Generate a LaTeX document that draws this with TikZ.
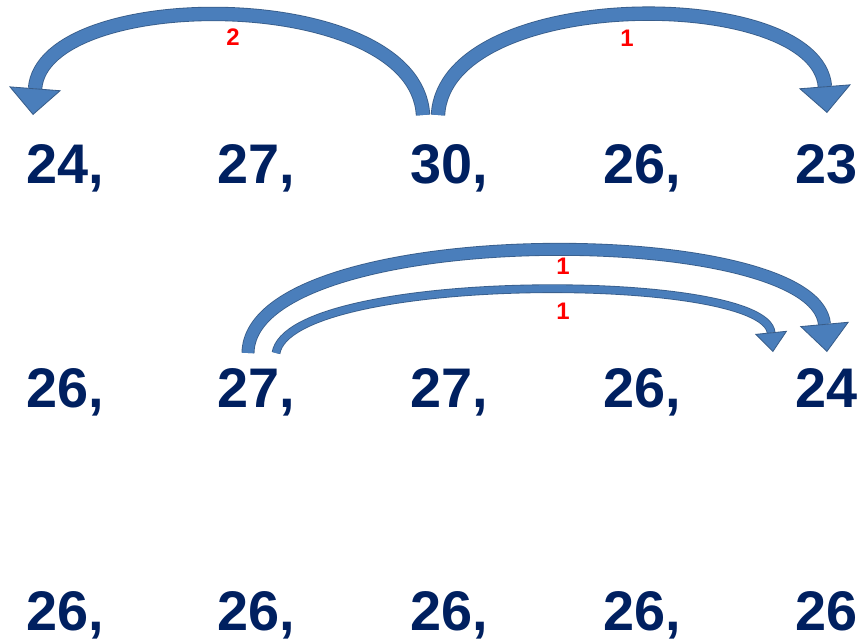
\documentclass[tikz,border=0pt]{standalone}
\usepackage{fontspec}
\setmainfont{Liberation Sans}
\usetikzlibrary{arrows.meta}
\definecolor{NumNavy}{RGB}{0,32,96}
\definecolor{ArrowFill}{RGB}{74,126,187}
\definecolor{ArrowEdge}{RGB}{56,93,138}
\definecolor{StepRed}{RGB}{255,0,0}

\begin{document}
\begin{tikzpicture}[x=0.025cm,y=-0.025cm,
    num/.style={anchor=base west,inner sep=0pt,text=NumNavy,
      font=\fontsize{39.7}{40}\selectfont\bfseries},
    steplabel/.style={inner sep=0pt,text=StepRed,
      font=\fontsize{17}{18}\selectfont\bfseries},
    jump/.style={draw=ArrowEdge,line width=0.6pt,double=ArrowFill,double distance=#1},
    bigjump/.style={jump=9pt,
      -{Triangle[length=19pt,width=37pt,line width=0.6pt,fill=ArrowFill]}},
    longjump/.style={jump=8pt,
      -{Triangle[length=20pt,width=35pt,line width=0.6pt,fill=ArrowFill]}},
    smalljump/.style={jump=5pt,
      -{Triangle[length=14pt,width=23pt,line width=0.6pt,fill=ArrowFill]}}
  ]
    \useasboundingbox (0,0) rectangle (862,641);

    % first row
    \node[num] (f24) at (26,183) {24,};
    \node[num] (f27) at (217,183) {27,};
    \node[num] (f30) at (410,183) {30,};
    \node[num] (f26) at (603,183) {26,};
    \node[num] (f23) at (795,183) {23};

    \draw[bigjump] ([shift={(13,-68)}]f30.base west)
      .. controls +(-7,-130) and +(10,-130) .. ([shift={(7,-68)}]f24.base west);
    \draw[bigjump] ([shift={(28,-68)}]f30.base west)
      .. controls +(7,-130) and +(-10,-128) .. ([shift={(32,-70)}]f23.base west);
    \node[steplabel] (jumptwo) at (233,37) {2};
    \node[steplabel] (jumpone) at (627,38) {1};

    % second row
    \node[num] (s26) at (26,407) {26,};
    \node[num] (s27a) at (217,407) {27,};
    \node[num] (s27b) at (410,407) {27,};
    \node[num] (s26b) at (603,407) {26,};
    \node[num] (s24) at (795,407) {24};

    \draw[longjump] ([shift={(31,-54)}]s27a.base west)
      .. controls +(2,-133) and +(-12,-132) .. ([shift={(32,-55)}]s24.base west);
    \draw[smalljump] ([shift={(59,-54)}]s27a.base west)
      .. controls +(14,-82) and +(-8,-81) .. ([shift={(-22,-55)}]s24.base west);
    \node[steplabel] (outerone) at (563,266) {1};
    \node[steplabel] (innerone) at (563,311) {1};

    % third row
    \node[num] (t26a) at (26,630) {26,};
    \node[num] (t26b) at (217,630) {26,};
    \node[num] (t26c) at (410,630) {26,};
    \node[num] (t26d) at (603,630) {26,};
    \node[num] (t26e) at (795,630) {26};
\end{tikzpicture}
\end{document}
